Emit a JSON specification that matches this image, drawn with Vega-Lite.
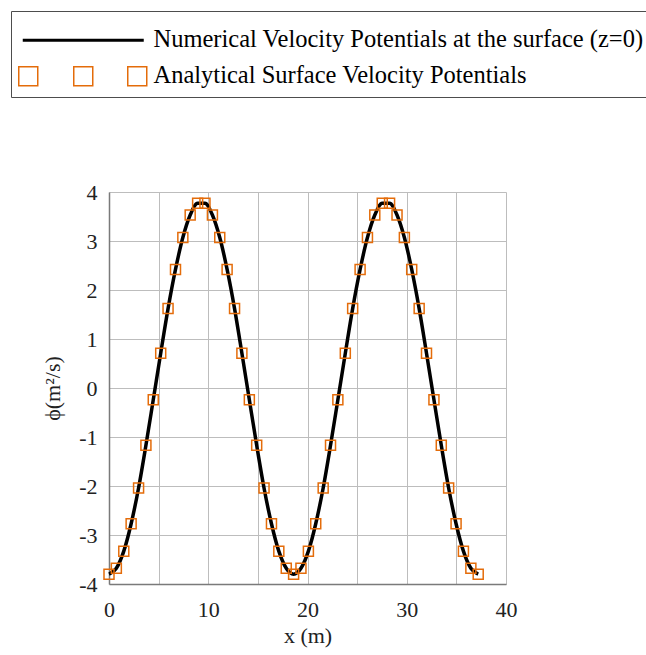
{
  "$schema": "https://vega.github.io/schema/vega-lite/v6.json",
  "width": 397,
  "height": 392,
  "autosize": {"type": "none"},
  "padding": {"left": 109, "top": 192, "right": 140, "bottom": 71},
  "background": "white",
  "data": {
    "values": [
      {"x": 0, "phi": -3.8}, {"x": 0.74, "phi": -3.68}, {"x": 1.49, "phi": -3.33}, {"x": 2.23, "phi": -2.77},
      {"x": 2.98, "phi": -2.04}, {"x": 3.72, "phi": -1.17}, {"x": 4.46, "phi": -0.24}, {"x": 5.21, "phi": 0.71},
      {"x": 5.95, "phi": 1.62}, {"x": 6.7, "phi": 2.42}, {"x": 7.44, "phi": 3.07}, {"x": 8.18, "phi": 3.53},
      {"x": 8.93, "phi": 3.77}, {"x": 9.67, "phi": 3.77}, {"x": 10.42, "phi": 3.53}, {"x": 11.16, "phi": 3.07},
      {"x": 11.9, "phi": 2.42}, {"x": 12.65, "phi": 1.62}, {"x": 13.39, "phi": 0.71}, {"x": 14.14, "phi": -0.24},
      {"x": 14.88, "phi": -1.17}, {"x": 15.62, "phi": -2.04}, {"x": 16.37, "phi": -2.77}, {"x": 17.11, "phi": -3.33},
      {"x": 17.86, "phi": -3.68}, {"x": 18.6, "phi": -3.8}, {"x": 19.34, "phi": -3.68}, {"x": 20.09, "phi": -3.33},
      {"x": 20.83, "phi": -2.77}, {"x": 21.58, "phi": -2.04}, {"x": 22.32, "phi": -1.17}, {"x": 23.06, "phi": -0.24},
      {"x": 23.81, "phi": 0.71}, {"x": 24.55, "phi": 1.62}, {"x": 25.3, "phi": 2.42}, {"x": 26.04, "phi": 3.07},
      {"x": 26.78, "phi": 3.53}, {"x": 27.53, "phi": 3.77}, {"x": 28.27, "phi": 3.77}, {"x": 29.02, "phi": 3.53},
      {"x": 29.76, "phi": 3.07}, {"x": 30.5, "phi": 2.42}, {"x": 31.25, "phi": 1.62}, {"x": 31.99, "phi": 0.71},
      {"x": 32.74, "phi": -0.24}, {"x": 33.48, "phi": -1.17}, {"x": 34.22, "phi": -2.04}, {"x": 34.97, "phi": -2.77},
      {"x": 35.71, "phi": -3.33}, {"x": 36.46, "phi": -3.68}, {"x": 37.2, "phi": -3.8}
    ]
  },
  "layer": [
    {
      "mark": {"type": "line", "strokeWidth": 3.5, "interpolate": "monotone", "color": "#000000"},
      "encoding": {
        "x": {
          "field": "x", "type": "quantitative",
          "scale": {"domain": [0, 40], "nice": false, "zero": false},
          "axis": {
            "values": [0, 5, 10, 15, 20, 25, 30, 35, 40],
            "labelExpr": "datum.value % 10 === 0 ? '' + datum.value : ''",
            "title": "x (m)",
            "labelPadding": 15,
            "titlePadding": 5
          }
        },
        "y": {
          "field": "phi", "type": "quantitative",
          "scale": {"domain": [-4, 4], "nice": false, "zero": false},
          "axis": {
            "values": [-4, -3.75, -3.5, -3.25, -3, -2.75, -2.5, -2.25, -2, -1.75, -1.5, -1.25, -1, -0.75, -0.5, -0.25, 0, 0.25, 0.5, 0.75, 1, 1.25, 1.5, 1.75, 2, 2.25, 2.5, 2.75, 3, 3.25, 3.5, 3.75, 4],
            "labelExpr": "datum.value % 1 === 0 ? '' + datum.value : ''",
            "title": "ϕ(m²/s)",
            "labelPadding": 12,
            "titlePadding": 14
          }
        }
      }
    },
    {
      "mark": {"type": "point", "shape": "square", "filled": false, "size": 100, "strokeWidth": 1.5, "opacity": 1, "color": "#E46C0A"},
      "encoding": {
        "x": {"field": "x", "type": "quantitative"},
        "y": {"field": "phi", "type": "quantitative"}
      }
    },
    {
      "data": {
        "values": [
          {"series": "num", "x": 0, "phi": 0},
          {"series": "ana", "x": 0, "phi": 0}
        ]
      },
      "mark": {"type": "point", "filled": false, "opacity": 0, "strokeWidth": 1.5},
      "encoding": {
        "x": {"field": "x", "type": "quantitative"},
        "y": {"field": "phi", "type": "quantitative"},
        "color": {
          "field": "series", "type": "nominal",
          "scale": {"domain": ["num", "ana"], "range": ["#000000", "#E46C0A"]},
          "legend": {
            "orient": "none",
            "legendX": -98,
            "legendY": -181,
            "direction": "vertical",
            "title": " ",
            "titleFontSize": 4,
            "titlePadding": 5,
            "padding": 8,
            "strokeColor": "#4d4d4d",
            "fillColor": "#ffffff",
            "symbolSize": 400,
            "symbolStrokeWidth": 1.5,
            "symbolOpacity": 1,
            "symbolOffset": 52,
            "labelOffset": 58,
            "rowPadding": 11,
            "labelFont": "Liberation Serif",
            "labelFontSize": 24.5,
            "labelColor": "#000000",
            "labelLimit": 0,
            "labelExpr": "datum.value === 'num' ? 'Numerical Velocity Potentials at the surface (z=0)' : 'Analytical Surface Velocity Potentials'"
          }
        },
        "shape": {
          "field": "series", "type": "nominal",
          "scale": {
            "domain": ["num", "ana"],
            "range": [
              "M-6.05,-0.08H6.05M-6.05,0.08H6.05",
              "M-6.45,-0.95H-4.55V0.95H-6.45Z M-0.95,-0.95H0.95V0.95H-0.95Z M4.45,-0.95H6.35V0.95H4.45Z"
            ]
          }
        }
      }
    }
  ],
  "config": {
    "view": {"stroke": null},
    "font": "Liberation Serif",
    "axis": {
      "labelFont": "Liberation Serif",
      "titleFont": "Liberation Serif",
      "labelFontSize": 22,
      "titleFontSize": 22,
      "labelColor": "#222222",
      "titleColor": "#222222",
      "titleFontWeight": "normal",
      "gridColor": "#bdbdbd",
      "gridWidth": 1,
      "gridOpacity": 1,
      "domainColor": "#7a7a7a",
      "domainWidth": 1.5,
      "ticks": false,
      "tickSize": 0,
      "labelFlush": false,
      "labelOverlap": false
    }
  }
}
